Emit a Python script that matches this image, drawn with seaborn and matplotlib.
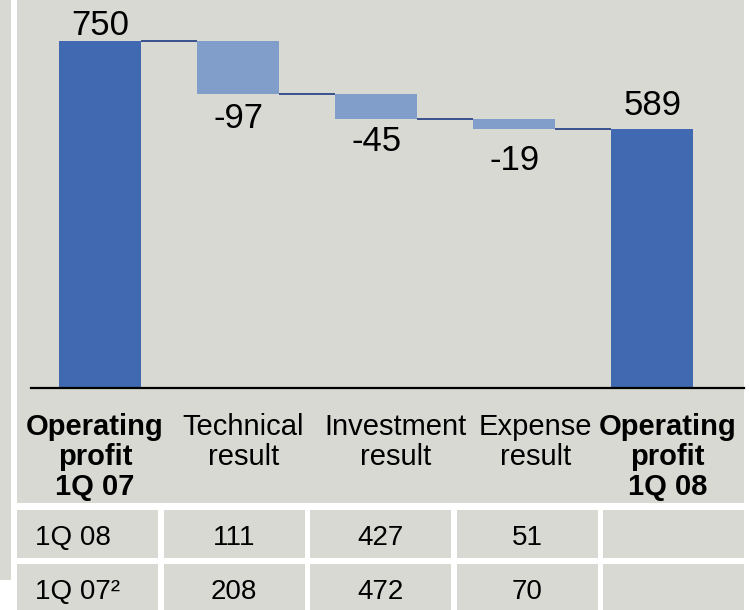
import numpy as np
import pandas as pd
import matplotlib
matplotlib.use("Agg")
import matplotlib.pyplot as plt
import matplotlib.transforms as mtransforms
from matplotlib.patches import Rectangle
import seaborn as sns

# ---------------- data ----------------
categories = ["Operating\nprofit\n1Q 07", "Technical\nresult", "Investment\nresult",
              "Expense\nresult", "Operating\nprofit\n1Q 08"]
values = [750, -97, -45, -19, 589]
is_total = [True, False, False, False, True]
value_labels = ["750", "-97", "-45", "-19", "589"]
row_labels = ["1Q 08", "1Q 07\u00b2"]
row_1q08 = ["111", "427", "51", ""]
row_1q07 = ["208", "472", "70", ""]

# ---------------- style ----------------
W, H = 749, 610
BG = "#D9D9D4"
DARK = "#4169B1"
LIGHT = "#819ECB"
LINE = "#1F3A80"
BAR_W = 0.594

sns.set_theme(style="white")
plt.rcParams["font.family"] = ["Liberation Sans", "DejaVu Sans"]

# waterfall geometry
tops, bases, running = [], [], []
run = 0
for v, t in zip(values, is_total):
    if t:
        tops.append(v); bases.append(0); run = v
    else:
        new = run + v
        tops.append(max(run, new)); bases.append(min(run, new)); run = new
    running.append(run)

df = pd.DataFrame({"cat": categories, "top": tops, "base": bases,
                   "kind": ["total" if t else "delta" for t in is_total]})

fig = plt.figure(figsize=(W / 100, H / 100), dpi=100)
fig.patch.set_facecolor("white")


def px_rect(x0, y0, x1, y1, color):
    fig.add_artist(Rectangle((x0 / W, 1 - y1 / H), (x1 - x0) / W, (y1 - y0) / H,
                             transform=fig.transFigure, facecolor=color,
                             edgecolor="none", zorder=-5))


def px_text(x, y, s, **kw):
    fig.text(x / W, 1 - y / H, s, **kw)


# background panels
px_rect(0, 0, 11, 580, BG)
px_rect(17, 0, 744, 503, BG)

# chart axes
ax = fig.add_axes([31 / W, 1 - 388 / H, (744 - 31) / W, 388 / H])
ax.patch.set_visible(False)

sns.barplot(data=df, x="cat", y="top", hue="kind",
            palette={"total": DARK, "delta": LIGHT}, dodge=False,
            width=BAR_W, saturation=1, legend=False, linewidth=0,
            edgecolor="none", ax=ax)
sns.barplot(data=df, x="cat", y="base", color=BG, width=BAR_W,
            saturation=1, linewidth=0, edgecolor="none", ax=ax)

ax.set_ylim(115, 825)
ax.set_xlim(-0.5, 4.663)
ax.set_xticks([]); ax.set_yticks([])
ax.set_xlabel(""); ax.set_ylabel("")
for s in ["top", "right", "left"]:
    ax.spines[s].set_visible(False)
ax.spines["bottom"].set_color("black")
ax.spines["bottom"].set_linewidth(1.6)

# connectors
for i in range(len(categories) - 1):
    ax.plot([i + BAR_W / 2, i + 1 - BAR_W / 2], [running[i], running[i]],
            color=LINE, lw=1.2, solid_capstyle="butt")

# value labels (pixel offsets of baseline from bar edge)
label_dy = [6, -34, -32, -41, 14]
for i, (lbl, v, t) in enumerate(zip(value_labels, values, is_total)):
    ref = tops[i] if (t or v > 0) else bases[i]
    ax.annotate(lbl, xy=(i, ref), xytext=(0, label_dy[i] * 0.72),
                textcoords="offset points", ha="center", va="baseline",
                fontsize=25, color="black")

# category labels
trans = mtransforms.blended_transform_factory(ax.transData, fig.transFigure)
label_dx = [-5, 5, 19, 21, 15]
for i, (c, t) in enumerate(zip(categories, is_total)):
    ax.text(i + label_dx[i] / 138.1, 1 - 413 / H, c, transform=trans,
            ha="center", va="top", fontsize=21, linespacing=1.1,
            fontweight="bold" if t else "normal", color="black")

# table
row_tops = [510, 564]
row_bots = [558, 616]
col_w = 141
col_step = 146.6
for r, (lab, vals) in enumerate(zip(row_labels, [row_1q08, row_1q07])):
    for c in range(5):
        x0 = 17 + c * col_step
        px_rect(x0, row_tops[r], x0 + col_w, row_bots[r], BG)
    px_text(17 + 18, row_tops[r] + 35, lab, ha="left", va="baseline",
            fontsize=20, color="black")
    for c, val in enumerate(vals, start=1):
        cx = 17 + c * col_step + col_w / 2
        px_text(cx, row_tops[r] + 35, val, ha="center", va="baseline",
                fontsize=20, color="black")

fig.savefig("out.png", dpi=100)
